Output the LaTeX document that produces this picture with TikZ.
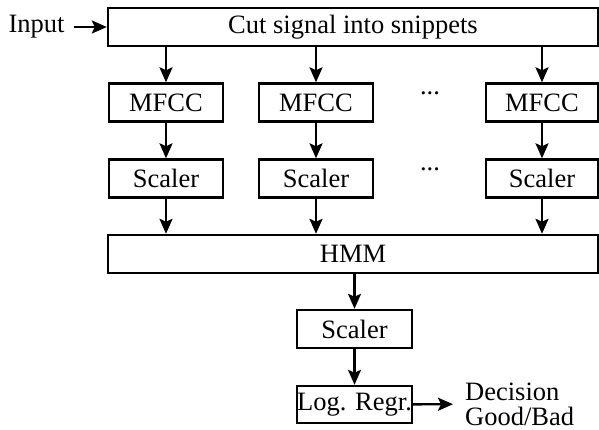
\documentclass[tikz,border=0pt]{standalone}
\usepackage{fontspec}
\setmainfont{Liberation Serif}
\usepackage{tikz}
\usetikzlibrary{arrows.meta}

\begin{document}
\begin{tikzpicture}[x=1pt, y=-1pt,
    box/.style={draw, line width=2.4pt, inner sep=0pt, minimum height=38pt},
    flow/.style={line width=2.4pt, -{Stealth[length=15pt, width=13pt, inset=3pt]}},
    font=\fontsize{26.5}{25}\selectfont]
  \useasboundingbox (0,0) rectangle (599,430);

  \node[inner sep=0pt] (input) at (36.5,27) {Input};
  \node[box, minimum width=490pt] (cut) at (353,27) {Cut signal into snippets};

  \node[box, minimum width=114pt] (mfccA) at (166,102.5) {MFCC};
  \node[box, minimum width=114pt] (mfccB) at (316,102.5) {MFCC};
  \node (dotsA) at (430,93) {...};
  \node[box, minimum width=112pt] (mfccC) at (542,102.5) {MFCC};

  \node[box, minimum width=114pt] (scalA) at (166,178.5) {Scaler};
  \node[box, minimum width=114pt] (scalB) at (316,178.5) {Scaler};
  \node (dotsB) at (430,169) {...};
  \node[box, minimum width=112pt] (scalC) at (542,178.5) {Scaler};

  \node[box, minimum width=490pt] (hmm) at (353,254) {HMM};
  \node[box, minimum width=115pt] (scaler) at (354.5,329) {Scaler};
  \node[box, minimum width=115pt, minimum height=37pt] (logreg) at (354.5,404.5) {Log. Regr.};
  \node[anchor=west, align=left, inner sep=0pt] (decision) at (465,404) {Decision\\Good/Bad};

  \draw[flow, shorten <=9pt] (input) -- (cut);
  \draw[flow] (mfccA |- cut.south) -- (mfccA);
  \draw[flow] (mfccB |- cut.south) -- (mfccB);
  \draw[flow] (mfccC |- cut.south) -- (mfccC);
  \draw[flow] (mfccA) -- (scalA);
  \draw[flow] (mfccB) -- (scalB);
  \draw[flow] (mfccC) -- (scalC);
  \draw[flow] (scalA) -- (scalA |- hmm.north);
  \draw[flow] (scalB) -- (scalB |- hmm.north);
  \draw[flow] (scalC) -- (scalC |- hmm.north);
  \draw[flow] (scaler |- hmm.south) -- (scaler);
  \draw[flow] (scaler) -- (logreg);
  \draw[flow, shorten >=12pt] (logreg) -- (decision);
\end{tikzpicture}
\end{document}
